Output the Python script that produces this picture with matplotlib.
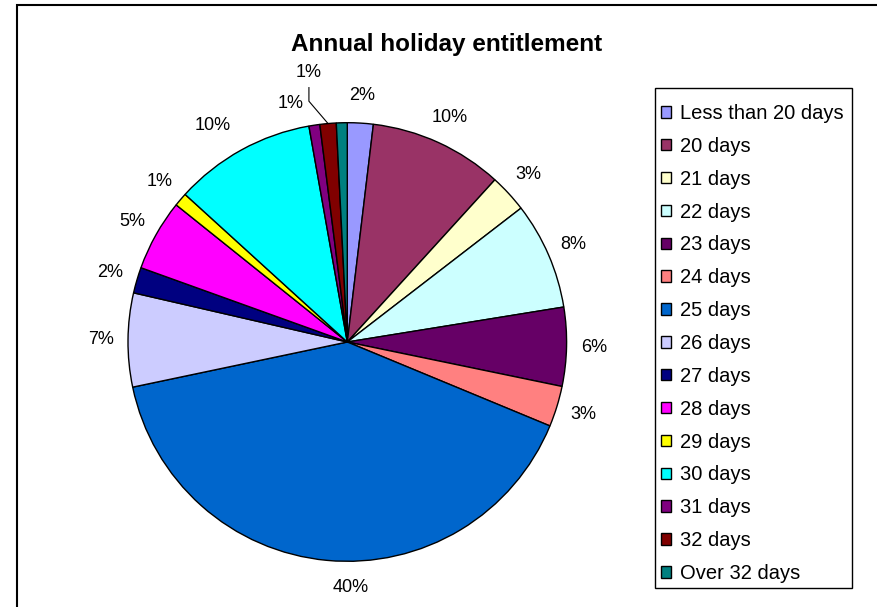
import numpy as np
import matplotlib
matplotlib.use('Agg')
import matplotlib.pyplot as plt
from matplotlib.patches import Rectangle

plt.rcParams['font.family'] = ['Liberation Sans', 'DejaVu Sans']

categories = ['Less than 20 days', '20 days', '21 days', '22 days', '23 days',
              '24 days', '25 days', '26 days', '27 days', '28 days', '29 days',
              '30 days', '31 days', '32 days', 'Over 32 days']
shares = [1.9, 9.85, 2.8, 7.9, 5.8, 3.0, 40.45, 6.9, 1.9, 5.25, 1.0, 10.45,
          0.8, 1.2, 0.8]
colours = ['#9999FF', '#993366', '#FFFFCC', '#CCFFFF', '#660066', '#FF8080',
           '#0066CC', '#CCCCFF', '#000080', '#FF00FF', '#FFFF00', '#00FFFF',
           '#800080', '#800000', '#008080']

W, H = 878, 607
fig = plt.figure(figsize=(W / 100, H / 100), dpi=100)

# chart area border (runs off the right and bottom edges)
fig.patches.append(Rectangle((17 / W, -0.1), 1.2, 1 - 5 / H + 0.1,
                             transform=fig.transFigure, fill=False,
                             edgecolor='black', linewidth=1.5))

# pie centre at (347, 342) px, radius 219 px
R = 219.3
cx, cy = 347.3, H - 342
span = 1.3
ax = fig.add_axes([(cx - span * R) / W, (cy - span * R) / H,
                   2 * span * R / W, 2 * span * R / H])

wedges, _ = ax.pie(shares, colors=colours, startangle=90, counterclock=False,
                   wedgeprops=dict(edgecolor='black', linewidth=1))
ax.set_xlim(-span, span)
ax.set_ylim(-span, span)
ax.set_aspect('equal')
ax.axis('off')

fs = 13
for name, w, v in zip(categories, wedges, shares):
    if name == 'Over 32 days':
        continue
    label = f'{v:.0f}%'
    mid = np.deg2rad((w.theta1 + w.theta2) / 2)
    ux, uy = np.cos(mid), np.sin(mid)
    if name == '32 days':
        # crowded slice: label lifted above with a leader line
        ax.plot([ux, -0.175, -0.175], [uy, 1.098, 1.16],
                color='black', linewidth=0.8, clip_on=False)
        ax.text(-0.175, 1.227, label, ha='center', va='center', fontsize=fs,
                clip_on=False)
        continue
    if name == '31 days':
        x, y = -0.257, 1.089
    else:
        d = 1.125
        x, y = d * ux, d * uy
        if name == '25 days':
            x += 0.12
        if name == '30 days':
            x -= 0.07
    ax.text(x, y, label, ha='center', va='center', fontsize=fs, clip_on=False)

fig.text(447 / W, 1 - 44 / H, 'Annual holiday entitlement', ha='center',
         va='center', fontsize=17.5, fontweight='bold')

# legend box drawn on its own, entries placed inside it
fig.patches.append(Rectangle((655 / W, 1 - 588 / H), 197 / W, 500 / H,
                             transform=fig.transFigure, fill=False,
                             edgecolor='black', linewidth=1))
leg = fig.legend(wedges, categories, loc='upper left',
                 bbox_to_anchor=(661 / W, 1 - 104 / H), frameon=False,
                 fontsize=14.5, handlelength=0.5, handleheight=0.5,
                 handletextpad=0.45, labelspacing=0.688, borderpad=0,
                 borderaxespad=0)
for h in leg.legend_handles:
    h.set_linewidth(1)

fig.savefig('out.png', dpi=100)
